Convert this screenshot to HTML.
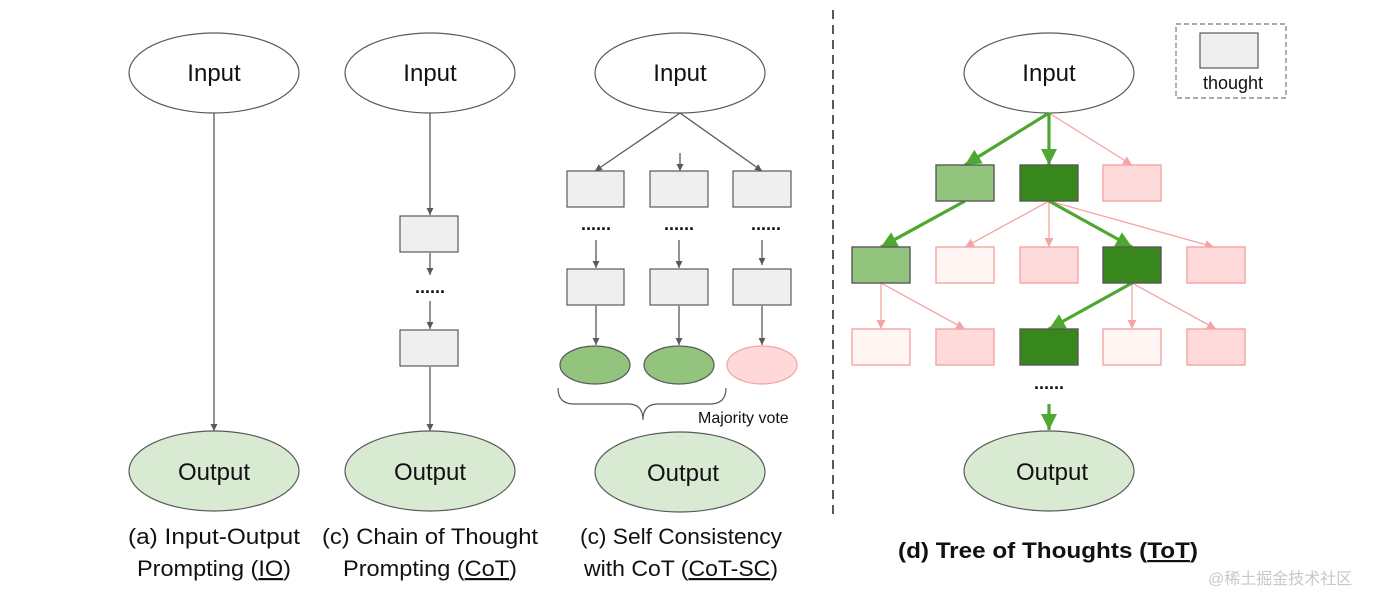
<!DOCTYPE html>
<html><head><meta charset="utf-8"><style>
html,body{margin:0;padding:0;background:#fff;width:1376px;height:594px;overflow:hidden}
text{font-family:"Liberation Sans","Noto Sans CJK SC",sans-serif;fill:#111}
</style></head><body>
<svg width="1376" height="594" viewBox="0 0 1376 594" xmlns="http://www.w3.org/2000/svg">
<defs>
<marker id="g" viewBox="0 0 10 10" refX="10" refY="5" markerWidth="7" markerHeight="7" markerUnits="userSpaceOnUse" orient="auto"><path d="M0,0L10,5L0,10z" fill="#595959"/></marker>
<marker id="p" viewBox="0 0 10 10" refX="10" refY="5" markerWidth="9" markerHeight="9" markerUnits="userSpaceOnUse" orient="auto"><path d="M0,0L10,5L0,10z" fill="#f4a4a4"/></marker>
<marker id="G" viewBox="0 0 10 10" refX="10" refY="5" markerWidth="16" markerHeight="16" markerUnits="userSpaceOnUse" orient="auto"><path d="M0,0L10,5L0,10z" fill="#4ea72e"/></marker>
</defs>
<g stroke="#595959" stroke-width="1.2">
<ellipse cx="214" cy="73" rx="85" ry="40" fill="#fff"/>
<ellipse cx="430" cy="73" rx="85" ry="40" fill="#fff"/>
<ellipse cx="680" cy="73" rx="85" ry="40" fill="#fff"/>
<ellipse cx="1049" cy="73" rx="85" ry="40" fill="#fff"/>
<ellipse cx="214" cy="471" rx="85" ry="40" fill="#d9ead3"/>
<ellipse cx="430" cy="471" rx="85" ry="40" fill="#d9ead3"/>
<ellipse cx="680" cy="472" rx="85" ry="40" fill="#d9ead3"/>
<ellipse cx="1049" cy="471" rx="85" ry="40" fill="#d9ead3"/>
</g>
<g font-size="24" text-anchor="middle">
<text x="214" y="81">Input</text><text x="430" y="81">Input</text><text x="680" y="81">Input</text><text x="1049" y="81">Input</text>
<text x="214" y="480">Output</text><text x="430" y="480">Output</text><text x="683" y="481">Output</text><text x="1052" y="480">Output</text>
</g>
<g stroke="#595959" stroke-width="1.3" fill="none" marker-end="url(#g)">
<line x1="214" y1="113" x2="214" y2="431"/>
<line x1="430" y1="113" x2="430" y2="215"/>
<line x1="430" y1="253" x2="430" y2="275"/>
<line x1="430" y1="301" x2="430" y2="329"/>
<line x1="430" y1="367" x2="430" y2="431"/>
<line x1="680" y1="113" x2="595" y2="171"/>
<line x1="680" y1="153" x2="680" y2="171"/>
<line x1="680" y1="113" x2="762" y2="171"/>
<line x1="596" y1="240" x2="596" y2="268"/>
<line x1="679" y1="240" x2="679" y2="268"/>
<line x1="762" y1="240" x2="762" y2="265"/>
<line x1="596" y1="306" x2="596" y2="345"/>
<line x1="679" y1="306" x2="679" y2="345"/>
<line x1="762" y1="306" x2="762" y2="345"/>
</g>
<g fill="#efefef" stroke="#595959" stroke-width="1.2">
<rect x="400" y="216" width="58" height="36"/><rect x="400" y="330" width="58" height="36"/>
<rect x="567" y="171" width="57" height="36"/><rect x="650" y="171" width="58" height="36"/><rect x="733" y="171" width="58" height="36"/>
<rect x="567" y="269" width="57" height="36"/><rect x="650" y="269" width="58" height="36"/><rect x="733" y="269" width="58" height="36"/>
<rect x="1200" y="33" width="58" height="35"/>
</g>
<ellipse cx="595" cy="365" rx="35" ry="19" fill="#93c47d" stroke="#595959" stroke-width="1.2"/>
<ellipse cx="679" cy="365" rx="35" ry="19" fill="#93c47d" stroke="#595959" stroke-width="1.2"/>
<ellipse cx="762" cy="365" rx="35" ry="19" fill="#ffd9d9" stroke="#f4a4a4" stroke-width="1.2"/>
<g font-size="18" text-anchor="middle" font-weight="bold">
<text x="430" y="293">......</text><text x="596" y="230">......</text><text x="679" y="230">......</text><text x="766" y="230">......</text><text x="1049" y="389">......</text>
</g>
<path d="M558,388 Q558,404 574,404 L628,404 Q643,404 643,420 Q643,404 658,404 L710,404 Q726,404 726,388" fill="none" stroke="#595959" stroke-width="1.2"/>
<text x="698" y="423" font-size="16">Majority vote</text>
<line x1="833" y1="10" x2="833" y2="520" stroke="#595959" stroke-width="2" stroke-dasharray="9,6"/>
<rect x="1176" y="24" width="110" height="74" fill="none" stroke="#777" stroke-width="1.2" stroke-dasharray="5,3"/>
<text x="1233" y="89" font-size="18" text-anchor="middle">thought</text>
<g stroke="#f4a4a4" stroke-width="1.3" marker-end="url(#p)">
<line x1="1049" y1="113" x2="1132" y2="165"/>
<line x1="1049" y1="201" x2="965" y2="247"/>
<line x1="1049" y1="201" x2="1049" y2="247"/>
<line x1="1049" y1="201" x2="1214" y2="247"/>
<line x1="881" y1="283" x2="881" y2="329"/>
<line x1="881" y1="283" x2="965" y2="329"/>
<line x1="1132" y1="283" x2="1132" y2="329"/>
<line x1="1132" y1="283" x2="1216" y2="329"/>
</g>
<g stroke="#4ea72e" stroke-width="3.2" marker-end="url(#G)">
<line x1="1049" y1="113" x2="965" y2="165"/>
<line x1="1049" y1="113" x2="1049" y2="165"/>
<line x1="965" y1="201" x2="881" y2="247"/>
<line x1="1049" y1="201" x2="1132" y2="247"/>
<line x1="1132" y1="283" x2="1049" y2="329"/>
<line x1="1049" y1="404" x2="1049" y2="430"/>
</g>
<g stroke-width="1.4">
<rect x="936" y="165" width="58" height="36" fill="#93c47d" stroke="#595959"/>
<rect x="1020" y="165" width="58" height="36" fill="#38871c" stroke="#595959"/>
<rect x="1103" y="165" width="58" height="36" fill="#ffdada" stroke="#f4a4a4"/>
<rect x="852" y="247" width="58" height="36" fill="#93c47d" stroke="#595959"/>
<rect x="936" y="247" width="58" height="36" fill="#fff5f3" stroke="#f4a4a4"/>
<rect x="1020" y="247" width="58" height="36" fill="#ffdada" stroke="#f4a4a4"/>
<rect x="1103" y="247" width="58" height="36" fill="#38871c" stroke="#595959"/>
<rect x="1187" y="247" width="58" height="36" fill="#ffdada" stroke="#f4a4a4"/>
<rect x="852" y="329" width="58" height="36" fill="#fff5f3" stroke="#f4a4a4"/>
<rect x="936" y="329" width="58" height="36" fill="#ffdada" stroke="#f4a4a4"/>
<rect x="1020" y="329" width="58" height="36" fill="#38871c" stroke="#595959"/>
<rect x="1103" y="329" width="58" height="36" fill="#fff5f3" stroke="#f4a4a4"/>
<rect x="1187" y="329" width="58" height="36" fill="#ffdada" stroke="#f4a4a4"/>
</g>
<g font-size="22" text-anchor="middle">
<text x="214" y="544" textLength="172" lengthAdjust="spacingAndGlyphs">(a) Input-Output</text>
<text x="214" y="576" textLength="154" lengthAdjust="spacingAndGlyphs">Prompting (<tspan text-decoration="underline">IO</tspan>)</text>
<text x="430" y="544" textLength="216" lengthAdjust="spacingAndGlyphs">(c) Chain of Thought</text>
<text x="430" y="576" textLength="174" lengthAdjust="spacingAndGlyphs">Prompting (<tspan text-decoration="underline">CoT</tspan>)</text>
<text x="681" y="544" textLength="202" lengthAdjust="spacingAndGlyphs">(c) Self Consistency</text>
<text x="681" y="576" textLength="194" lengthAdjust="spacingAndGlyphs">with CoT (<tspan text-decoration="underline">CoT-SC</tspan>)</text>
<text x="1048" y="558" font-weight="bold" textLength="300" lengthAdjust="spacingAndGlyphs">(d) Tree of Thoughts (<tspan text-decoration="underline">ToT</tspan>)</text>
</g>
<text x="1208" y="584" font-size="16" style="fill:#c8c8c8">@稀土掘金技术社区</text>
</svg>
</body></html>
